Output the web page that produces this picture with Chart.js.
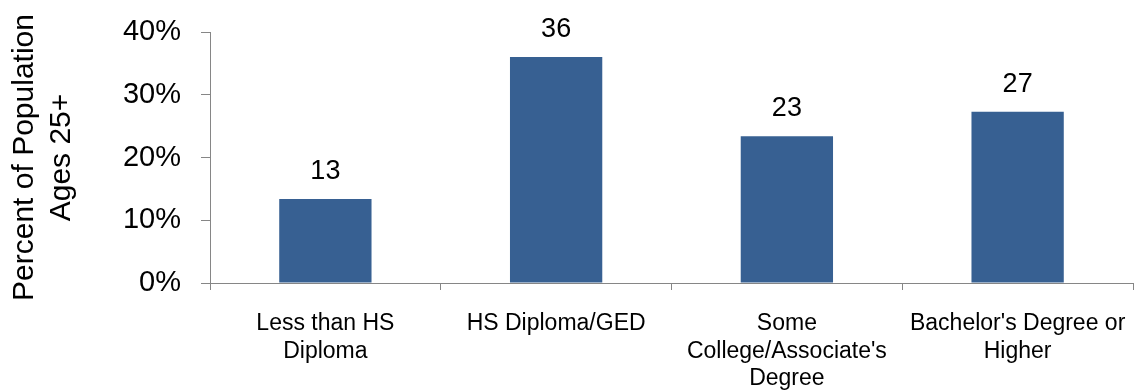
<!DOCTYPE html>
<html>
<head>
<meta charset="utf-8">
<script src="https://cdn.jsdelivr.net/npm/chart.js@4"></script>
<style>
  html, body { margin: 0; padding: 0; background: #fff; }
  #chart { display: block; }
</style>
</head>
<body>
<canvas id="chart" width="1135" height="391"></canvas>
<script>
// Educational attainment, percent of population ages 25+

const categories = [
  ['Less than HS', 'Diploma'],
  ['HS Diploma/GED'],
  ['Some', "College/Associate's", 'Degree'],
  ["Bachelor's Degree or", 'Higher']
];
const shares = [13.4, 36.0, 23.4, 27.3];
const yTitle = ['Percent of Population', 'Ages 25+'];

const FONT = '"Liberation Sans", Arial, Helvetica, sans-serif';
const BAR = '#376092';
const AXIS = '#868686';

// value labels above bars (no datalabels plugin available offline)
const barLabels = {
  id: 'barLabels',
  afterDatasetsDraw(chart) {
    const ctx = chart.ctx;
    const meta = chart.getDatasetMeta(0);
    ctx.save();
    ctx.font = '27px ' + FONT;
    ctx.fillStyle = '#000';
    ctx.textAlign = 'center';
    ctx.textBaseline = 'alphabetic';
    meta.data.forEach((bar, i) => {
      ctx.fillText(String(Math.round(shares[i])), bar.x, bar.y - 20);
    });
    ctx.restore();
  }
};

new Chart(document.getElementById('chart'), {
  type: 'bar',
  data: {
    labels: categories,
    datasets: [{
      data: shares,
      backgroundColor: BAR,
      borderWidth: 0,
      barPercentage: 0.4,
      categoryPercentage: 1
    }]
  },
  options: {
    responsive: false,
    animation: false,
    layout: { padding: { top: 32, right: 2, left: 0, bottom: 0 } },
    plugins: {
      legend: { display: false },
      tooltip: { enabled: false }
    },
    scales: {
      x: {
        grid: {
          drawOnChartArea: false,
          drawTicks: true,
          tickLength: 7,
          color: AXIS,
          offset: true
        },
        border: { color: AXIS, width: 1 },
        ticks: {
          color: '#000',
          font: { family: FONT, size: 23, lineHeight: 1.2 },
          padding: 20,
          maxRotation: 0,
          minRotation: 0,
          autoSkip: false
        },
        afterFit(scale) {
          scale.height = 108;
          scale.paddingLeft = 0;
          scale.paddingRight = 0;
        }
      },
      y: {
        min: 0,
        max: 40,
        grid: {
          drawOnChartArea: false,
          drawTicks: true,
          tickLength: 9,
          color: AXIS
        },
        border: { color: AXIS, width: 1 },
        ticks: {
          stepSize: 10,
          color: '#000',
          font: { family: FONT, size: 29 },
          padding: 20,
          callback: v => v + '%'
        },
        title: {
          display: true,
          text: yTitle,
          color: '#000',
          font: { family: FONT, size: 30, lineHeight: 1.24 },
          padding: { top: 6, bottom: 0 }
        },
        afterFit(scale) {
          scale.width = 210;
          scale.paddingTop = 0;
          scale.paddingBottom = 0;
        }
      }
    }
  },
  plugins: [barLabels]
});
</script>
</body>
</html>
